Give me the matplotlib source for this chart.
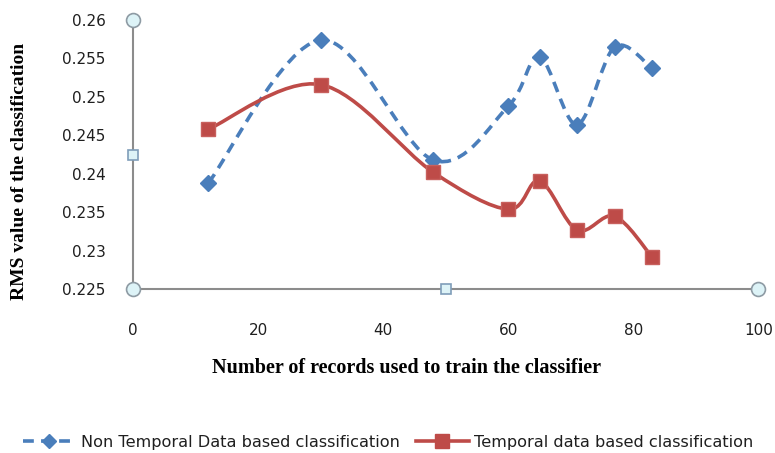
import numpy as np
import matplotlib
matplotlib.use('Agg')
import matplotlib.pyplot as plt
from matplotlib.path import Path
from matplotlib.patches import PathPatch

# values
records = [12, 30, 48, 60, 65, 71, 77, 83]
non_temporal = [0.2388, 0.2574, 0.2418, 0.2488, 0.2552, 0.2464, 0.2565, 0.2537]
temporal = [0.2458, 0.2516, 0.2402, 0.2354, 0.2391, 0.2327, 0.2345, 0.2292]
x_ticks = [0, 20, 40, 60, 80, 100]
y_ticks = [0.225, 0.23, 0.235, 0.24, 0.245, 0.25, 0.255, 0.26]

blue = '#4A7EBB'
red = '#BE4B48'


def smooth_path(ax, xs, ys):
	'''Excel style smoothed line: Catmull-Rom bezier built in screen space'''
	pts = ax.transData.transform(np.column_stack([xs, ys]))
	n = len(pts)
	verts = [pts[0]]
	codes = [Path.MOVETO]
	for i in range(n - 1):
		p0 = pts[max(i - 1, 0)]
		p1 = pts[i]
		p2 = pts[i + 1]
		p3 = pts[min(i + 2, n - 1)]
		c1 = p1 + (p2 - p0) / 6.0
		c2 = p2 - (p3 - p1) / 6.0
		verts += [c1, c2, p2]
		codes += [Path.CURVE4] * 3
	verts = ax.transData.inverted().transform(np.array(verts))
	return Path(verts, codes)


fig = plt.figure(figsize=(7.75, 4.53), dpi=100)
ax = fig.add_axes([133.3 / 775, 1 - 289.3 / 453, 625 / 775, 269.3 / 453])
ax.set_xlim(0, 100)
ax.set_ylim(0.225, 0.26)

for side in ['top', 'right']:
	ax.spines[side].set_visible(False)
for side in ['left', 'bottom']:
	ax.spines[side].set_color('#8C8C8C')
	ax.spines[side].set_linewidth(1.5)

ax.set_xticks(x_ticks)
ax.set_yticks(y_ticks)
ax.set_xticklabels([str(t) for t in x_ticks])
ax.set_yticklabels(['%g' % t for t in y_ticks])
ax.tick_params(axis='x', length=0, pad=24, labelsize=11, labelcolor='#1F1F1F')
ax.tick_params(axis='y', length=0, pad=20, labelsize=11, labelcolor='#1F1F1F')

# smoothed lines
ax.add_patch(PathPatch(smooth_path(ax, records, non_temporal), fill=False,
	edgecolor=blue, lw=2.6, linestyle=(0, (3, 2)), capstyle='butt'))
ax.add_patch(PathPatch(smooth_path(ax, records, temporal), fill=False,
	edgecolor=red, lw=2.6, capstyle='round', joinstyle='round'))

# markers
ax.plot(records, non_temporal, linestyle='none', marker='D', ms=8, color=blue)
ax.plot(records, temporal, linestyle='none', marker='s', ms=10, color=red, mec='#C8605D')

# proxies for the legend
h1, = ax.plot([], [], color=blue, lw=2.6, linestyle=(0, (3, 2)), marker='D', ms=7, label='Non Temporal Data based classification')
h2, = ax.plot([], [], color=red, lw=2.6, marker='s', ms=10, label='Temporal data based classification')

# selection handles left on the axes
hx = [0, 0, 100]
hy = [0.26, 0.225, 0.225]
ax.plot(hx, hy, linestyle='none', marker='o', ms=10, mfc='#DDF3F7', mec='#8E9BA4', mew=1.2, clip_on=False, zorder=5)
ax.plot([0, 50], [0.2425, 0.225], linestyle='none', marker='s', ms=7.5, mfc='#DDF3F7', mec='#7F9DB9', mew=1.2, clip_on=False, zorder=5)

fig.text(20 / 775, 1 - 171 / 453, 'RMS value of the classification', rotation=90,
	ha='center', va='center', fontsize=14, fontweight='bold', family='Liberation Serif')
fig.text(406 / 775, 1 - 368 / 453, 'Number of records used to train the classifier',
	ha='center', va='center', fontsize=14.5, fontweight='bold', family='Liberation Serif')

fig.legend(handles=[h1, h2], loc='center', bbox_to_anchor=(388 / 775, 1 - 442 / 453),
	ncol=2, frameon=False, fontsize=11.6, handlelength=3.3, handletextpad=0.3,
	columnspacing=1.0, labelcolor='#1F1F1F')

fig.savefig('out.png', dpi=100)
